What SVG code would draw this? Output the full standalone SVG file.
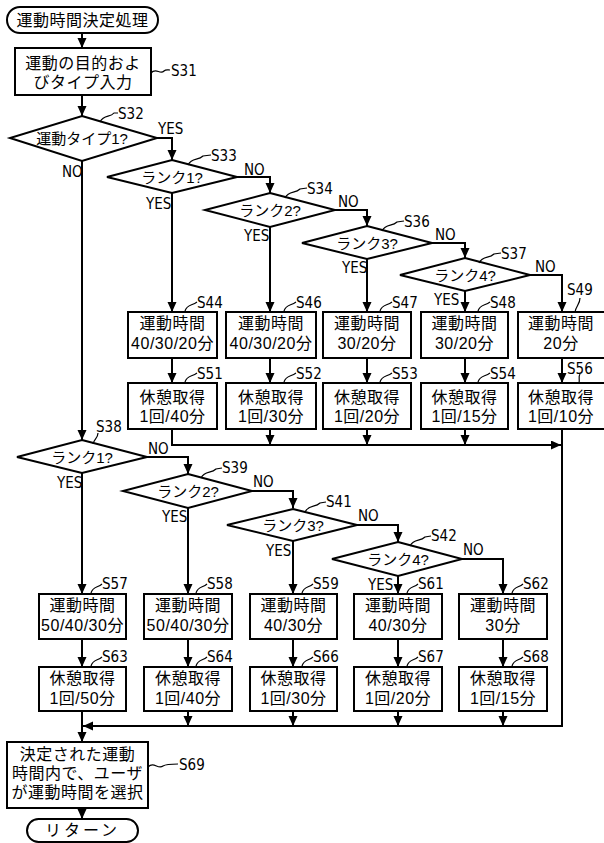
<svg xmlns="http://www.w3.org/2000/svg" width="604" height="843" viewBox="0 0 604 843">
<defs>
<marker id="ah" markerWidth="10" markerHeight="10" refX="10" refY="4.5" orient="auto" markerUnits="userSpaceOnUse">
<path d="M0,0 L10,4.5 L0,9 z" fill="#000"/>
</marker>
<style>
.s{fill:#fff;stroke:#000;stroke-width:2}
.c{fill:none;stroke:#000;stroke-width:2}
.a{fill:none;stroke:#000;stroke-width:2;marker-end:url(#ah)}
.t{fill:none;stroke:#000;stroke-width:1.2}
.j{font-family:"Liberation Sans","Noto Sans CJK JP","Noto Sans CJK SC",sans-serif;font-size:16px;text-anchor:middle;fill:#000;letter-spacing:0.5px}
.d{font-family:"Liberation Sans","Noto Sans CJK JP","Noto Sans CJK SC",sans-serif;font-size:15px;text-anchor:middle;fill:#000}
.l{font-family:"Liberation Sans Narrow","DejaVu Sans Condensed","Liberation Sans",sans-serif;font-size:15px;fill:#000}
</style>
</defs>
<rect width="604" height="843" fill="#fff"/>

<g id="connectors">
<path class="a" d="M82,33 V48"/>
<path class="a" d="M82,95 V116"/>
<path class="a" d="M157,138 H172 V160"/>
<path class="a" d="M82,160 V440"/>
<path class="a" d="M237,177 H270 V193"/>
<path class="a" d="M172,193 V312"/>
<path class="a" d="M335,210 H367 V226"/>
<path class="a" d="M270,227 V312"/>
<path class="a" d="M432,243 H465 V258"/>
<path class="a" d="M367,259 V312"/>
<path class="a" d="M530,275 H562 V312"/>
<path class="a" d="M465,291 V312"/>
<path class="a" d="M172,358 V383"/>
<path class="a" d="M270,358 V383"/>
<path class="a" d="M367,358 V383"/>
<path class="a" d="M465,358 V383"/>
<path class="a" d="M562,358 V383"/>
<path class="a" d="M172,429 V445 H561"/>
<path class="a" d="M270,429 V445"/>
<path class="a" d="M367,429 V445"/>
<path class="a" d="M465,429 V445"/>
<path class="a" d="M562,429 V726 H83"/>
<path class="a" d="M147,457 H188 V474"/>
<path class="a" d="M82,473 V594"/>
<path class="a" d="M252,491 H293 V508"/>
<path class="a" d="M188,508 V594"/>
<path class="a" d="M357,525 H398 V542"/>
<path class="a" d="M293,541 V594"/>
<path class="a" d="M462,559 H503 V594"/>
<path class="a" d="M398,576 V594"/>
<path class="a" d="M82,639 V667"/>
<path class="a" d="M188,639 V667"/>
<path class="a" d="M293,639 V667"/>
<path class="a" d="M398,639 V667"/>
<path class="a" d="M503,639 V667"/>
<path class="a" d="M188,711 V726"/>
<path class="a" d="M293,711 V726"/>
<path class="a" d="M398,711 V726"/>
<path class="a" d="M503,711 V726"/>
<path class="a" d="M82,711 V742"/>
<path class="a" d="M82,808 V819"/>
<g class="l">
<text x="158" y="134">YES</text>
<text x="62" y="177">NO</text>
<text x="244" y="175">NO</text>
<text x="146" y="209">YES</text>
<text x="338" y="207">NO</text>
<text x="244" y="241">YES</text>
<text x="435" y="240">NO</text>
<text x="342" y="273">YES</text>
<text x="535" y="272">NO</text>
<text x="434" y="305">YES</text>
<text x="148" y="454">NO</text>
<text x="57" y="488">YES</text>
<text x="253" y="487">NO</text>
<text x="162" y="522">YES</text>
<text x="358" y="521">NO</text>
<text x="266" y="556">YES</text>
<text x="463" y="555">NO</text>
<text x="368" y="590">YES</text>
</g>
</g>

<g id="start">
<rect class="s" x="7" y="7" width="151" height="26" rx="13"/>
<text class="j" x="82.5" y="26">運動時間決定処理</text>
</g>

<g id="S31">
<rect class="s" x="15" y="48" width="136" height="47"/>
<text class="j" x="83" y="69">運動の目的およ</text>
<text class="j" x="83" y="88">びタイプ入力</text>
<path class="t" d="M151,73 C156,67 160,75 164,71 C166,69 168,70 170,70"/>
<text class="l" x="171" y="76">S31</text>
</g>

<g id="S32">
<polygon class="s" points="82,116 157,138 82,161 10,138"/>
<text class="d" x="82" y="144">運動タイプ1?</text>
<path class="t" d="M100,122 C104,114 110,118 114,113 L118,113"/>
<text class="l" x="118" y="119">S32</text>
</g>

<g id="S33">
<polygon class="s" points="172,160 237,177 172,193 107,177"/>
<text class="d" x="172" y="183">ランク1?</text>
<path class="t" d="M188,165 C192,157 198,161 203,156 L211,155"/>
<text class="l" x="211" y="161">S33</text>
</g>

<g id="S34">
<polygon class="s" points="270,193 335,210 270,227 205,210"/>
<text class="d" x="270" y="216">ランク2?</text>
<path class="t" d="M285,198 C289,190 295,194 300,189 L307,188"/>
<text class="l" x="307" y="194">S34</text>
</g>

<g id="S36">
<polygon class="s" points="367,226 432,243 367,259 302,243"/>
<text class="d" x="367" y="249">ランク3?</text>
<path class="t" d="M382,231 C386,223 392,227 397,222 L404,221"/>
<text class="l" x="404" y="227">S36</text>
</g>

<g id="S37">
<polygon class="s" points="465,258 530,275 465,291 400,275"/>
<text class="d" x="465" y="281">ランク4?</text>
<path class="t" d="M479,263 C483,255 489,259 494,254 L501,253"/>
<text class="l" x="501" y="259">S37</text>
</g>

<g id="S44">
<rect class="s" x="128" y="312" width="89" height="46"/>
<text class="j" x="172.5" y="329">運動時間</text>
<text class="j" x="172.5" y="349">40/30/20分</text>
<path class="t" d="M185,311 C187,304 192,306 197,302"/>
<text class="l" x="197" y="308">S44</text>
</g>
<g id="S46">
<rect class="s" x="226" y="312" width="90" height="46"/>
<text class="j" x="271" y="329">運動時間</text>
<text class="j" x="271" y="349">40/30/20分</text>
<path class="t" d="M284,311 C286,304 291,306 296,302"/>
<text class="l" x="296" y="308">S46</text>
</g>
<g id="S47">
<rect class="s" x="323" y="312" width="88" height="46"/>
<text class="j" x="367" y="329">運動時間</text>
<text class="j" x="367" y="349">30/20分</text>
<path class="t" d="M380,311 C382,304 387,306 392,302"/>
<text class="l" x="392" y="308">S47</text>
</g>
<g id="S48">
<rect class="s" x="421" y="312" width="87" height="46"/>
<text class="j" x="464.5" y="329">運動時間</text>
<text class="j" x="464.5" y="349">30/20分</text>
<path class="t" d="M478,311 C480,304 485,306 490,302"/>
<text class="l" x="490" y="308">S48</text>
</g>
<g id="S49">
<rect class="s" x="518" y="312" width="88" height="46"/>
<text class="j" x="561" y="329">運動時間</text>
<text class="j" x="561" y="349">20分</text>
<path class="t" d="M575,312 C576,306 580,304 580,298"/>
<text class="l" x="567" y="295">S49</text>
</g>

<g id="S51">
<rect class="s" x="128" y="383" width="89" height="46"/>
<text class="j" x="172.5" y="403">休憩取得</text>
<text class="j" x="172.5" y="422">1回/40分</text>
<path class="t" d="M185,382 C187,375 192,377 197,373"/>
<text class="l" x="197" y="379">S51</text>
</g>
<g id="S52">
<rect class="s" x="226" y="383" width="90" height="46"/>
<text class="j" x="271" y="403">休憩取得</text>
<text class="j" x="271" y="422">1回/30分</text>
<path class="t" d="M284,382 C286,375 291,377 296,373"/>
<text class="l" x="296" y="379">S52</text>
</g>
<g id="S53">
<rect class="s" x="323" y="383" width="88" height="46"/>
<text class="j" x="367" y="403">休憩取得</text>
<text class="j" x="367" y="422">1回/20分</text>
<path class="t" d="M380,382 C382,375 387,377 392,373"/>
<text class="l" x="392" y="379">S53</text>
</g>
<g id="S54">
<rect class="s" x="421" y="383" width="87" height="46"/>
<text class="j" x="464.5" y="403">休憩取得</text>
<text class="j" x="464.5" y="422">1回/15分</text>
<path class="t" d="M478,382 C480,375 485,377 490,373"/>
<text class="l" x="490" y="379">S54</text>
</g>
<g id="S56">
<rect class="s" x="518" y="383" width="88" height="46"/>
<text class="j" x="561" y="403">休憩取得</text>
<text class="j" x="561" y="422">1回/10分</text>
<path class="t" d="M579,383 C580,379 578,377 580,374"/>
<text class="l" x="567" y="374">S56</text>
</g>

<g id="S38">
<polygon class="s" points="82,440 147,457 82,473 17,457"/>
<text class="d" x="82" y="463">ランク1?</text>
<path class="t" d="M93,444 C94,439 98,438 98,433"/>
<text class="l" x="96" y="432">S38</text>
</g>
<g id="S39">
<polygon class="s" points="188,474 252,491 188,508 123,491"/>
<text class="d" x="188" y="497">ランク2?</text>
<path class="t" d="M201,478 C205,470 211,474 216,469 L222,468"/>
<text class="l" x="222" y="473">S39</text>
</g>
<g id="S41">
<polygon class="s" points="293,509 357,525 293,541 227,525"/>
<text class="d" x="293" y="531">ランク3?</text>
<path class="t" d="M305,512 C309,504 315,508 320,503 L326,502"/>
<text class="l" x="326" y="507">S41</text>
</g>
<g id="S42">
<polygon class="s" points="398,542 462,559 398,576 332,559"/>
<text class="d" x="398" y="565">ランク4?</text>
<path class="t" d="M410,546 C414,538 420,542 425,537 L431,536"/>
<text class="l" x="431" y="541">S42</text>
</g>

<g id="S57">
<rect class="s" x="39" y="594" width="87" height="45"/>
<text class="j" x="82.5" y="611">運動時間</text>
<text class="j" x="82.5" y="631">50/40/30分</text>
<path class="t" d="M91,593 C93,586 98,588 102,584"/>
<text class="l" x="102" y="589">S57</text>
</g>
<g id="S58">
<rect class="s" x="144" y="594" width="88" height="45"/>
<text class="j" x="188" y="611">運動時間</text>
<text class="j" x="188" y="631">50/40/30分</text>
<path class="t" d="M196,593 C198,586 203,588 207,584"/>
<text class="l" x="207" y="589">S58</text>
</g>
<g id="S59">
<rect class="s" x="250" y="594" width="87" height="45"/>
<text class="j" x="293.5" y="611">運動時間</text>
<text class="j" x="293.5" y="631">40/30分</text>
<path class="t" d="M302,593 C304,586 309,588 313,584"/>
<text class="l" x="313" y="589">S59</text>
</g>
<g id="S61">
<rect class="s" x="354" y="594" width="88" height="45"/>
<text class="j" x="398" y="611">運動時間</text>
<text class="j" x="398" y="631">40/30分</text>
<path class="t" d="M407,593 C409,586 414,588 418,584"/>
<text class="l" x="418" y="589">S61</text>
</g>
<g id="S62">
<rect class="s" x="459" y="594" width="88" height="45"/>
<text class="j" x="503" y="611">運動時間</text>
<text class="j" x="503" y="631">30分</text>
<path class="t" d="M512,593 C514,586 519,588 523,584"/>
<text class="l" x="523" y="589">S62</text>
</g>

<g id="S63">
<rect class="s" x="39" y="667" width="87" height="44"/>
<text class="j" x="82.5" y="684">休憩取得</text>
<text class="j" x="82.5" y="704">1回/50分</text>
<path class="t" d="M91,666 C93,659 98,661 102,657"/>
<text class="l" x="102" y="662">S63</text>
</g>
<g id="S64">
<rect class="s" x="144" y="667" width="88" height="44"/>
<text class="j" x="188" y="684">休憩取得</text>
<text class="j" x="188" y="704">1回/40分</text>
<path class="t" d="M196,666 C198,659 203,661 207,657"/>
<text class="l" x="207" y="662">S64</text>
</g>
<g id="S66">
<rect class="s" x="250" y="667" width="87" height="44"/>
<text class="j" x="293.5" y="684">休憩取得</text>
<text class="j" x="293.5" y="704">1回/30分</text>
<path class="t" d="M302,666 C304,659 309,661 313,657"/>
<text class="l" x="313" y="662">S66</text>
</g>
<g id="S67">
<rect class="s" x="354" y="667" width="88" height="44"/>
<text class="j" x="398" y="684">休憩取得</text>
<text class="j" x="398" y="704">1回/20分</text>
<path class="t" d="M407,666 C409,659 414,661 418,657"/>
<text class="l" x="418" y="662">S67</text>
</g>
<g id="S68">
<rect class="s" x="459" y="667" width="88" height="44"/>
<text class="j" x="503" y="684">休憩取得</text>
<text class="j" x="503" y="704">1回/15分</text>
<path class="t" d="M512,666 C514,659 519,661 523,657"/>
<text class="l" x="523" y="662">S68</text>
</g>

<g id="S69">
<rect class="s" x="7" y="742" width="141" height="66"/>
<text class="j" x="77.5" y="760">決定された運動</text>
<text class="j" x="77.5" y="779">時間内で、ユーザ</text>
<text class="j" x="77.5" y="798">が運動時間を選択</text>
<path class="t" d="M148,767 C154,761 158,770 163,766 C166,764 170,764 178,764"/>
<text class="l" x="179" y="770">S69</text>
</g>

<g id="end">
<rect class="s" x="27" y="819" width="111" height="23" rx="11.5"/>
<text class="j" x="82.5" y="836" style="letter-spacing:3px">リターン</text>
</g>
</svg>
